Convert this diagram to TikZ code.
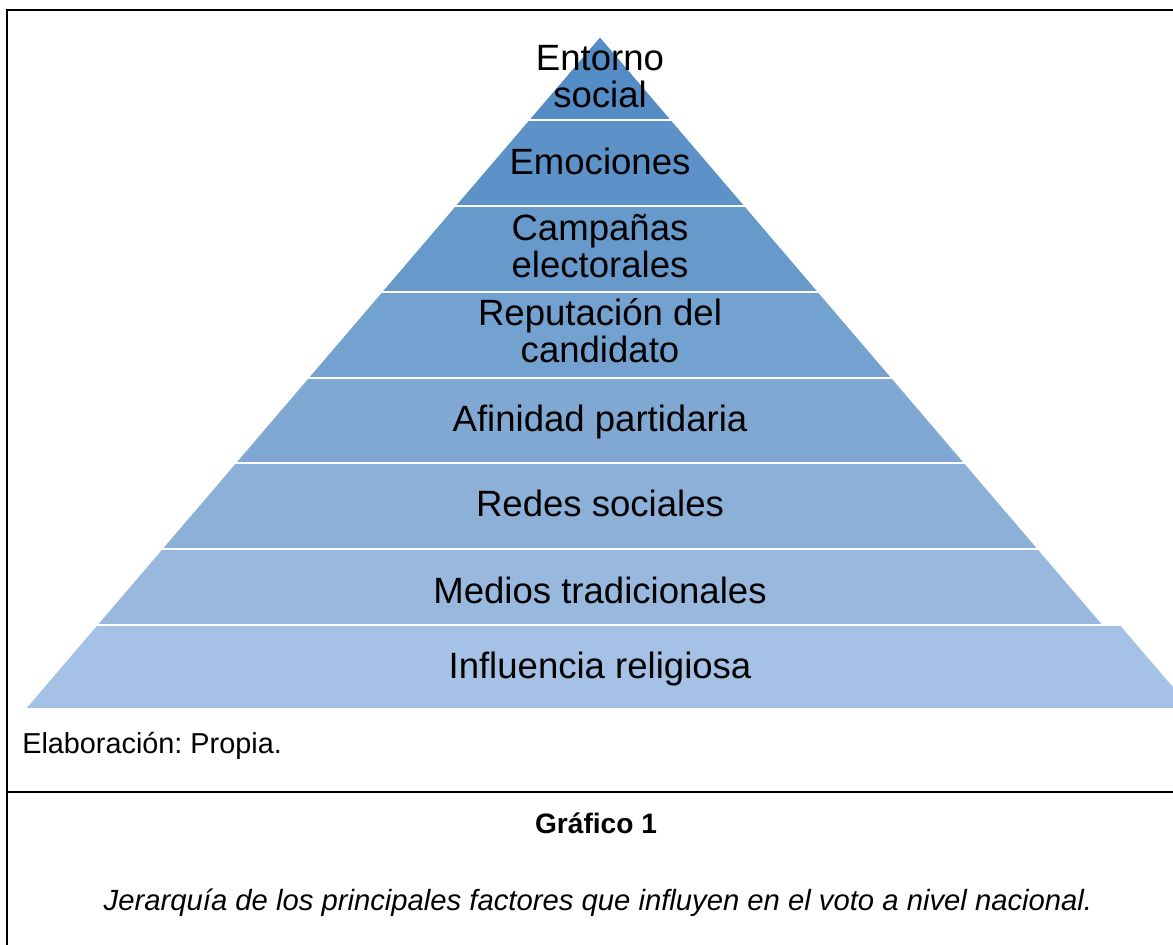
\documentclass[tikz,border=0pt]{standalone}
\usepackage{fontspec}
\setmainfont{Liberation Sans}
\usetikzlibrary{calc}
% colours of the layers, dark at the top, light at the base
\definecolor{lvlone}{RGB}{84,140,197}
\definecolor{lvltwo}{RGB}{93,146,200}
\definecolor{lvlthree}{RGB}{104,153,203}
\definecolor{lvlfour}{RGB}{115,161,208}
\definecolor{lvlfive}{RGB}{128,168,211}
\definecolor{lvlsix}{RGB}{140,176,216}
\definecolor{lvlseven}{RGB}{153,184,222}
\definecolor{lvleight}{RGB}{165,193,229}
\tikzset{ %styles for the pyramid and the caption
  layer/.style={draw=white, line width=1.2pt},
  layertext/.style={font=\fontsize{26}{27}\selectfont, align=center, anchor=base},
  frame/.style={line width=1.8pt},
  note/.style={font=\fontsize{20}{24}\selectfont, anchor=base}
}

\begin{document}
\frenchspacing
\begin{tikzpicture}[x=0.025cm, y=-0.025cm] % one unit is one pixel of the page
\useasboundingbox (0,0) rectangle (1173,945);
\clip (0,0) rectangle (1173,945);

% layers, from the top down
\filldraw[layer, fill=lvlone] (600,36) -- (671.8,120) -- (528.2,120) -- cycle;
\filldraw[layer, fill=lvltwo] (528.2,120) -- (671.8,120) -- (745.4,206) -- (454.6,206) -- cycle;
\filldraw[layer, fill=lvlthree] (454.6,206) -- (745.4,206) -- (818.9,292) -- (381.1,292) -- cycle;
\filldraw[layer, fill=lvlfour] (381.1,292) -- (818.9,292) -- (892.4,378) -- (307.6,378) -- cycle;
\filldraw[layer, fill=lvlfive] (307.6,378) -- (892.4,378) -- (965.1,463) -- (234.9,463) -- cycle;
\filldraw[layer, fill=lvlsix] (234.9,463) -- (965.1,463) -- (1038.6,549) -- (161.4,549) -- cycle;
\filldraw[layer, fill=lvlseven] (161.4,549) -- (1038.6,549) -- (1103.6,625) -- (96.4,625) -- cycle;
\filldraw[layer, fill=lvleight] (96.4,625) -- (1121,625) -- (1193,709) -- (24.6,709) -- cycle;

% texts of the layers (base = baseline of the last line)
\node[layertext] (entorno) at (600,108) {Entorno\\social};
\node[layertext] (emociones) at (600,175) {Emociones};
\node[layertext] (campanas) at (600,278) {Campañas\\electorales};
\node[layertext] (reputacion) at (600,363) {Reputación del\\candidato};
\node[layertext] (afinidad) at (600,432) {Afinidad partidaria};
\node[layertext] (redes) at (600,517) {Redes sociales};
\node[layertext] (medios) at (600,603) {Medios tradicionales};
\node[layertext] (religion) at (600,678) {Influencia religiosa};

% frame round the figure
\draw[frame] (7,950) -- (7,10) -- (1180,10);
\draw[frame] (7,792) -- (1180,792);

% caption
\node[note, anchor=base west, inner sep=0pt, font=\fontsize{20.5}{24}\selectfont] (fuente) at (22,753) {Elaboración: Propia.};
\node[note, font=\fontsize{20}{24}\selectfont\bfseries] (titulo) at (596,833) {Gráfico 1};
\node[note, font=\fontsize{20.8}{24}\selectfont\itshape] (leyenda) at (598,910) {Jerarquía de los principales factores que influyen en el voto a nivel nacional.};

\end{tikzpicture}
\end{document}
